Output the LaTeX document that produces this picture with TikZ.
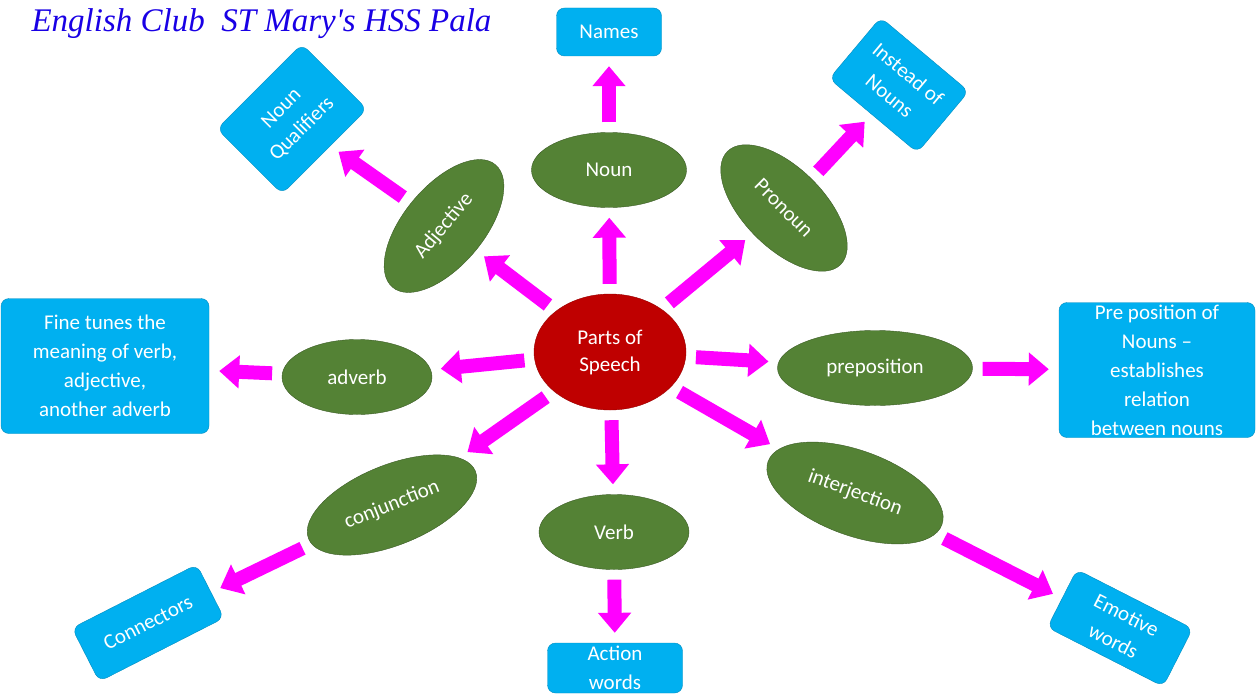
\documentclass[tikz,border=0pt]{standalone}
\usepackage{fontspec}
\setmainfont{Carlito}
\newfontfamily\titlefont{Liberation Serif}
\usetikzlibrary{shapes.geometric,arrows.meta}
\definecolor{leaf}{HTML}{548235}
\definecolor{sky}{HTML}{00B0F0}
\definecolor{pink}{HTML}{FF00FF}
\tikzset{
    part/.style = {ellipse, draw=leaf!70!black, fill=leaf, text=white, font=\fontsize{21}{26}\selectfont, inner sep=0pt},
    hub/.style = {ellipse, draw=red!60!black, fill=red!75!black, text=white, font=\fontsize{21}{27}\selectfont, align=center, inner sep=0pt},
    meaning/.style = {draw=sky!80!black, fill=sky, text=white, rounded corners=8pt, align=center, font=\fontsize{21}{29}\selectfont, inner sep=2pt},
    fat/.style = {pink, line width=14pt, -{Triangle[length=20pt,width=32pt]}, shorten <=10pt, shorten >=10pt},
}
\begin{document}
\begin{tikzpicture}[x=1pt,y=-1pt]
\useasboundingbox (0,0) rectangle (1257,693);
\node[font=\titlefont\itshape\fontsize{33}{36}\selectfont, text=blue!80!violet, anchor=west] (title) at (28,24) {English Club\ \ ST Mary's HSS Pala};

% centre
\node[hub, minimum width=152pt, minimum height=116pt] (pos) at (610,352) {Parts of\\Speech};

% parts of speech
\node[part, minimum width=155pt, minimum height=75pt] (noun) at (609,170) {Noun};
\node[part, minimum width=160pt, minimum height=80pt, rotate=50] (adj) at (444,226) {Adjective};
\node[part, minimum width=160pt, minimum height=80pt, rotate=-45] (pron) at (784,208) {Pronoun};
\node[part, minimum width=150pt, minimum height=75pt] (adv) at (357,377) {adverb};
\node[part, minimum width=195pt, minimum height=75pt] (prep) at (875,368) {preposition};
\node[part, minimum width=180pt, minimum height=80pt, rotate=22] (conj) at (392,505) {conjunction};
\node[part, minimum width=150pt, minimum height=75pt] (verb) at (614,532) {Verb};
\node[part, minimum width=185pt, minimum height=85pt, rotate=-20] (intj) at (855,493) {interjection};

% meanings
\node[meaning, minimum width=105pt, minimum height=48pt] (names) at (609,32) {Names};
\node[meaning, minimum width=120pt, minimum height=92pt, rotate=45] (qual) at (292,119) {Noun\\Qualifiers};
\node[meaning, minimum width=115pt, minimum height=80pt, rotate=-40] (inst) at (899,85) {Instead of\\Nouns};
\node[meaning, minimum width=208pt, minimum height=135pt] (tune) at (105,366) {Fine tunes the\\meaning of verb,\\adjective,\\another adverb};
\node[meaning, minimum width=196pt, minimum height=135pt] (rel) at (1157,370) {Pre position of\\Nouns --\\establishes\\relation\\between nouns};
\node[meaning, minimum width=140pt, minimum height=60pt, rotate=27] (conn) at (148,623) {Connectors};
\node[meaning, minimum width=135pt, minimum height=50pt] (act) at (615,668) {Action\\words};
\node[meaning, minimum width=130pt, minimum height=65pt, rotate=-27] (emo) at (1120,628) {Emotive\\words};

% arrows
\draw[fat] (pos) -- (noun);
\draw[fat] (pos) -- (adj);
\draw[fat] (pos) -- (pron);
\draw[fat] (pos) -- (adv);
\draw[fat] (pos) -- (prep);
\draw[fat] (pos) -- (conj);
\draw[fat] (pos) -- (verb);
\draw[fat] (pos) -- (intj);
\draw[fat] (noun) -- (names);
\draw[fat] (adj) -- (qual);
\draw[fat] (pron) -- (inst);
\draw[fat] (adv) -- (tune);
\draw[fat] (prep) -- (rel);
\draw[fat] (conj) -- (conn);
\draw[fat] (verb) -- (act);
\draw[fat] (intj) -- (emo);
\end{tikzpicture}
\end{document}
